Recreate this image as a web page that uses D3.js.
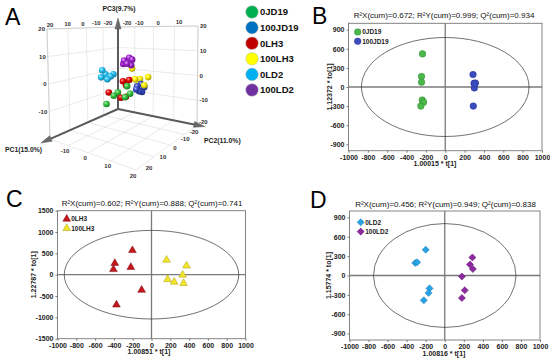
<!DOCTYPE html>
<html>
<head>
<meta charset="utf-8">
<title>PCA and OPLS-DA score plots</title>
<script src="https://d3js.org/d3.v7.min.js"></script>
<style>
	body {
		margin: 0;
		background: #fff;
	}
	svg { display: block; font-family: "Liberation Sans", Arial, sans-serif; }
	.letter { font-size: 23px; fill: #000; }
	.plot-title { font-size: 8px; fill: #111; }
	.axis-title { font-size: 7px; font-weight: bold; fill: #222; }
	.legend-text { font-size: 6.5px; font-weight: bold; fill: #222; }
	.zero-line { stroke: #7a7a7a; stroke-width: 1.3px; }
	.frame { fill: none; stroke: #777; stroke-width: 0.9px; }
	.ellipse { fill: none; stroke: #333; stroke-width: 0.7px; }
	.grid3d { stroke: #dcdcdc; stroke-width: 0.6px; fill: none; }
	.edge3d { stroke: #c8c8c8; stroke-width: 0.8px; fill: none; }
	.axis3d { stroke: #5a5a5a; stroke-width: 2px; }
	.tick3d { font-size: 6px; font-weight: bold; fill: #333; }
	.title3d { font-size: 6.8px; font-weight: bold; fill: #222; }
	.legend3d { font-size: 9.5px; font-weight: bold; fill: #111; }
</style>
</head>
<body>
<script>
	// ---------- data ----------
	var groups = ["0JD19", "100JD19", "0LH3", "100LH3", "0LD2", "100LD2"];
	var legendColors = ["#00b050", "#0070c0", "#c00000", "#ffff00", "#00b0f0", "#7030a0"];
	var sphereColors = ["#2fc23a", "#3548c8", "#e40000", "#fff000", "#22c0f4", "#a020d0"];

	// PCA scores [PC1, PC2, PC3]
	var pca_0JD19  = [[8, -2, -7.4], [5, -1, -4.9], [4, 0.2, -3.8], [5, 4.3, -4.7], [2, 4.4, -4.1], [1, 2.2, -1.8]];
	var pca_100JD19 = [[-1, 5.4, -1.9], [-2, 5.6, -3.9], [-4, 5.5, -4.7], [0, 5.7, -2.8], [-5, 4.3, -2.0], [-3, 7.2, -2.4]];
	var pca_0LH3   = [[2, 1.0, 0.1], [0, 2.4, 0.3], [1, 1.7, -1.5], [6, -2.6, -3.7], [4, 1.6, -5.5], [3, 3.2, -5.2]];
	var pca_100LH3 = [[-4, 0.8, 3.9], [-2, 3.7, 0.4], [-5, 3.8, -0.1], [-6, 6.9, 0.8], [-3, 7.2, -1.7], [-7, 1.8, -2.2]];
	var pca_0LD2   = [[5, -6.7, 4.0], [3, -6.8, 2.1], [6, -6.4, 1.5], [4, -5.0, 0.6], [2, -5.1, 1.3], [1, -4.5, 2.0]];
	var pca_100LD2 = [[0, 0, 7.5], [-2, 0.9, 8.4], [2, 5.3, 8.5], [3, 3.7, 7.0], [-1, 2.6, 5.8], [-3, -2.8, 5.6]];
	var pcaTicks = [-20, -10, 0, 10, 20];
	var pcaTitles = ["PC1(15.0%)", "PC2(11.0%)", "PC3(9.7%)"];

	// OPLS-DA scores [t[1], to[1]]
	var opls_0JD19   = [[-235, 520], [-245, 165], [-245, 75], [-238, -205], [-224, -240], [-252, -300]];
	var opls_100JD19 = [[287, 195], [298, 58], [312, 62], [301, -15], [290, -300], [305, 50]];
	var opls_0LH3    = [[-203, 570], [-390, 270], [-405, 125], [-220, 175], [-105, -360], [-373, -705]];
	var opls_100LH3  = [[160, 345], [373, 210], [331, -5], [171, -110], [241, -170], [341, -200]];
	var opls_0LD2    = [[-200, 400], [-310, 195], [-290, 205], [-160, -200], [-170, -270], [-220, -385]];
	var opls_100LD2  = [[290, 280], [265, 170], [295, 100], [180, -15], [210, -230], [180, -350]];

	var tTicks = [-1000, -800, -600, -400, -200, 0, 200, 400, 600, 800, 1000];
	var toTicksBD = [-900, -600, -300, 0, 300, 600, 900];
	var toTicksC = [-1500, -1000, -500, 0, 500, 1000, 1500];

	var titleB = "R²X(cum)=0.672; R²Y(cum)=0.999; Q²(cum)=0.934";
	var titleC = "R²X(cum)=0.602; R²Y(cum)=0.888; Q²(cum)=0.741";
	var titleD = "R²X(cum)=0.456; R²Y(cum)=0.949; Q²(cum)=0.838";
	var ellipseB = [866, 777], ellipseC = [928, 1038], ellipseD = [748, 805];

	// ---------- svg ----------
	var svg = d3.select("body").append("svg")
			.attr("width", 550)
			.attr("height", 361);
	var defs = svg.append("defs");

	////////////////////////////////////////////////////////////
	// A: 3D PCA
	var floor = [[118, 109], [50, 139], [197, 125], [136, 170]];   // back, left, right, front
	var roof  = [[118, 27], [47, 29], [198, 26], [137, 31]];
	var s01 = d3.scaleLinear().domain([-20, 20]).range([0, 1]);
	var persp = function(t) { return t / (1.25 - 0.25 * t); };

	function bil(c, u, v) {
		return [0, 1].map(function(k) {
			return c[0][k] * (1 - u) * (1 - v) + c[1][k] * u * (1 - v) + c[2][k] * (1 - u) * v + c[3][k] * u * v;
		});
	}
	function proj(a, b, c) {
		var u = persp(s01(a)), v = persp(s01(b)), w = s01(c);
		var lo = bil(floor, u, v), hi = bil(roof, u, v);
		return [lo[0] + (hi[0] - lo[0]) * w, lo[1] + (hi[1] - lo[1]) * w];
	}
	var line = d3.line();

	var gA = svg.append("g");
	var grid = gA.append("g");
	pcaTicks.forEach(function(t) {
		// left wall (PC2 = -20)
		grid.append("path").attr("class", "grid3d").attr("d", line([proj(t, -20, -20), proj(t, -20, 20)]));
		grid.append("path").attr("class", "grid3d").attr("d", line([proj(-20, -20, t), proj(20, -20, t)]));
		// right wall (PC1 = -20)
		grid.append("path").attr("class", "grid3d").attr("d", line([proj(-20, t, -20), proj(-20, t, 20)]));
		grid.append("path").attr("class", "grid3d").attr("d", line([proj(-20, -20, t), proj(-20, 20, t)]));
		// floor (PC3 = -20)
		grid.append("path").attr("class", "grid3d").attr("d", line([proj(t, -20, -20), proj(t, 20, -20)]));
		grid.append("path").attr("class", "grid3d").attr("d", line([proj(-20, t, -20), proj(20, t, -20)]));
	});
	grid.append("path").attr("class", "edge3d").attr("d", line([proj(20, -20, -20), proj(20, -20, 20), proj(-20, -20, 20), proj(-20, 20, 20), proj(-20, 20, -20)]));

	// axes with arrow heads
	var origin = proj(-20, -20, -20);
	function arrow(end, ext) {
		var dx = end[0] - origin[0], dy = end[1] - origin[1];
		var len = Math.sqrt(dx * dx + dy * dy);
		var tip = [origin[0] + dx * (1 + ext / len), origin[1] + dy * (1 + ext / len)];
		var ux = dx / len, uy = dy / len;
		var base = [tip[0] - ux * 11, tip[1] - uy * 11];
		gA.append("path").attr("class", "axis3d").attr("d", line([origin, base]));
		gA.append("path")
				.attr("d", line([tip, [base[0] - uy * 3, base[1] + ux * 3], [base[0] + uy * 3, base[1] - ux * 3]]) + "Z")
				.attr("fill", "#6a6a6a")
				.attr("stroke", "#444")
				.attr("stroke-width", 0.4);
	}

	// spheres
	var pcaSets = [pca_0JD19, pca_100JD19, pca_0LH3, pca_100LH3, pca_0LD2, pca_100LD2];
	sphereColors.forEach(function(c, i) {
		var gr = defs.append("radialGradient").attr("id", "sph" + i)
				.attr("cx", "38%").attr("cy", "35%").attr("r", "65%");
		gr.append("stop").attr("offset", "0%").attr("stop-color", d3.interpolateRgb(c, "#fff")(0.65));
		gr.append("stop").attr("offset", "45%").attr("stop-color", c);
		gr.append("stop").attr("offset", "100%").attr("stop-color", d3.interpolateRgb(c, "#000")(0.35));
	});

	arrow(proj(20, -20, -20), 10);
	arrow(proj(-20, 20, -20), 8);
	arrow(proj(-20, -20, 20), 9);

	var spheres = [];
	pcaSets.forEach(function(set, i) {
		set.forEach(function(d) { spheres.push({ g: i, p: d }); });
	});
	spheres.sort(function(a, b) { return (s01(a.p[0]) + s01(a.p[1])) - (s01(b.p[0]) + s01(b.p[1])); });
	gA.append("g").selectAll("circle")
			.data(spheres)
		.enter().append("circle")
			.attr("cx", function(d) { return proj(d.p[0], d.p[1], d.p[2])[0]; })
			.attr("cy", function(d) { return proj(d.p[0], d.p[1], d.p[2])[1]; })
			.attr("r", 3.3)
			.attr("fill", function(d) { return "url(#sph" + d.g + ")"; });

	// tick labels
	var tk = gA.append("g").attr("class", "tick3d");
	pcaTicks.forEach(function(t) {
		var f = s01(t), p;
		// top edge of the left wall (PC1)
		p = proj(t, -20, 20);
		tk.append("text").attr("x", p[0] - 10 + 13 * f).attr("y", p[1] - 2).attr("text-anchor", "middle").text(t);
		// top edge of the right wall (PC2)
		if (t < 20) {
			p = proj(-20, t, 20);
			tk.append("text").attr("x", p[0] + (t === -20 ? 9 : 4.5)).attr("y", p[1] - 2).attr("text-anchor", "middle").text(t);
		}
		// left vertical edge (PC3)
		if (t > -20) {
			p = proj(20, -20, t);
			tk.append("text").attr("x", p[0] - 2).attr("y", p[1] + 2).attr("text-anchor", "end").text(t);
		}
		// right vertical edge (PC3)
		p = proj(-20, 20, t);
		tk.append("text").attr("x", p[0] + 2).attr("y", p[1] + (t === -20 ? -1 : 2)).attr("text-anchor", "start").text(t);
		// floor, left front edge (PC2)
		if (t > -20) {
			p = proj(20, t, -20);
			tk.append("text").attr("x", p[0] - 3).attr("y", p[1] + 7.5).attr("text-anchor", "middle").text(t);
		}
		// floor, right front edge (PC1)
		p = proj(t, 20, -20);
		tk.append("text").attr("x", p[0] - 3 + 16 * f).attr("y", p[1] + 9 - 9 * f).attr("text-anchor", "middle").text(t);
	});
	gA.append("text").attr("class", "title3d").attr("x", 5).attr("y", 152).text(pcaTitles[0]);
	gA.append("text").attr("class", "title3d").attr("x", 204).attr("y", 143).text(pcaTitles[1]);
	gA.append("text").attr("class", "title3d").attr("x", 119).attr("y", 11).attr("text-anchor", "middle").text(pcaTitles[2]);

	// legend
	var leg = gA.append("g").selectAll("g")
			.data(groups)
		.enter().append("g")
			.attr("transform", function(d, i) { return "translate(252," + (12 + i * 15.6) + ")"; });
	leg.append("circle")
			.attr("r", 6.3)
			.attr("fill", function(d, i) { return legendColors[i]; })
			.attr("stroke", "#bbb")
			.attr("stroke-width", 0.5);
	leg.append("text").attr("class", "legend3d").attr("x", 8).attr("y", 3.4).text(function(d) { return d; });

	svg.append("text").attr("class", "letter").attr("x", 5).attr("y", 25).text("A");

	////////////////////////////////////////////////////////////
	// B, C, D: OPLS-DA score plots
	var circle = d3.symbol(d3.symbolCircle, 34);
	var triangle = d3.symbol(d3.symbolTriangle, 26);
	var diamond = d3.symbol(d3.symbolSquare, 25);
	var plain = function(d) { return String(d); };

	function oplsPanel(p) {
		var x = d3.scaleLinear().domain([-1000, 1000]).range([p.box[0], p.box[1]]);
		var y = d3.scaleLinear().domain(p.yDomain).range([p.box[3], p.box[2]]);
		var g = svg.append("g");

		g.append("line").attr("class", "zero-line")
				.attr("x1", x(0)).attr("x2", x(0)).attr("y1", p.box[2]).attr("y2", p.box[3]);
		g.append("line").attr("class", "zero-line")
				.attr("x1", p.box[0]).attr("x2", p.box[1]).attr("y1", y(0)).attr("y2", y(0));
		g.append("ellipse").attr("class", "ellipse")
				.attr("cx", x(0)).attr("cy", y(0))
				.attr("rx", x(p.ellipse[0]) - x(0))
				.attr("ry", y(0) - y(p.ellipse[1]));
		g.append("rect").attr("class", "frame")
				.attr("x", p.box[0]).attr("y", p.box[2])
				.attr("width", p.box[1] - p.box[0]).attr("height", p.box[3] - p.box[2]);

		var xa = g.append("g").attr("transform", "translate(0," + p.box[3] + ")")
				.call(d3.axisBottom(x).tickValues(tTicks).tickFormat(plain).tickSize(2).tickPadding(2));
		var ya = g.append("g").attr("transform", "translate(" + p.box[0] + ",0)")
				.call(d3.axisLeft(y).tickValues(p.yTicks).tickFormat(plain).tickSize(2).tickPadding(2));
		[xa, ya].forEach(function(a) {
			a.attr("font-size", 7).attr("font-family", null).attr("font-weight", "bold");
			a.select(".domain").remove();
			a.selectAll(".tick line").attr("stroke", "#777");
			a.selectAll(".tick text").attr("fill", "#222");
		});

		p.series.forEach(function(s) {
			g.append("g").selectAll("path")
					.data(s.values)
				.enter().append("path")
					.attr("d", s.symbol)
					.attr("transform", function(d) {
						return "translate(" + x(d[0]) + "," + y(d[1]) + ")" + (s.symbol === diamond ? " rotate(45)" : "");
					})
					.attr("fill", s.fill)
					.attr("stroke", s.stroke)
					.attr("stroke-width", 0.5);
		});

		// legend
		p.series.forEach(function(s, i) {
			var ly = p.legend[1] + i * 9.3;
			g.append("path")
					.attr("d", s.symbol)
					.attr("transform", "translate(" + p.legend[0] + "," + ly + ")" + (s.symbol === diamond ? " rotate(45)" : ""))
					.attr("fill", s.fill)
					.attr("stroke", s.stroke)
					.attr("stroke-width", 0.5);
			g.append("text").attr("class", "legend-text")
					.attr("x", p.legend[0] + 4.5).attr("y", ly + 2.4).text(s.name);
		});

		g.append("text").attr("class", "plot-title")
				.attr("x", p.titlePos[0]).attr("y", p.titlePos[1])
				.attr("text-anchor", "middle").text(p.title);
		g.append("text").attr("class", "axis-title")
				.attr("x", p.xTitleX).attr("y", p.box[3] + 15.5)
				.attr("text-anchor", "middle").text(p.xTitle);
		g.append("text").attr("class", "axis-title")
				.attr("transform", "translate(" + p.yTitleX + "," + y(0) + ") rotate(-90)")
				.attr("dy", "0.35em")
				.attr("text-anchor", "middle").text(p.yTitle);
		g.append("text").attr("class", "letter")
				.attr("x", p.letterPos[0]).attr("y", p.letterPos[1]).text(p.letter);
	}

	oplsPanel({
		box: [348.5, 542, 23.3, 150.7], yDomain: [-1000, 1000], yTicks: toTicksBD,
		ellipse: ellipseB, title: titleB, titlePos: [444, 18],
		xTitle: "1.00015 * t[1]", xTitleX: 435, yTitle: "1.12372 * to[1]", yTitleX: 330,
		letter: "B", letterPos: [312, 24], legend: [357.7, 32],
		series: [
			{ name: "0JD19", values: opls_0JD19, symbol: circle, fill: "#4cb84a", stroke: "#2f8a30" },
			{ name: "100JD19", values: opls_100JD19, symbol: circle, fill: "#3b4cc0", stroke: "#27338a" }
		]
	});

	oplsPanel({
		box: [57.5, 245.5, 210.7, 338.7], yDomain: [-1500, 1500], yTicks: toTicksC,
		ellipse: ellipseC, title: titleC, titlePos: [152, 206],
		xTitle: "1.00851 * t[1]", xTitleX: 149, yTitle: "1.22787 * to[1]", yTitleX: 33.3,
		letter: "C", letterPos: [6, 207], legend: [66.7, 219],
		series: [
			{ name: "0LH3", values: opls_0LH3, symbol: triangle, fill: "#c4161c", stroke: "#7a0b0e" },
			{ name: "100LH3", values: opls_100LH3, symbol: triangle, fill: "#f2e52a", stroke: "#a89c10" }
		]
	});

	oplsPanel({
		box: [349.5, 540, 211, 340], yDomain: [-1000, 1000], yTicks: toTicksBD,
		ellipse: ellipseD, title: titleD, titlePos: [445.5, 206.5],
		xTitle: "1.00816 * t[1]", xTitleX: 444, yTitle: "1.15774 * to[1]", yTitleX: 328.3,
		letter: "D", letterPos: [310, 208], legend: [360.7, 222.3],
		series: [
			{ name: "0LD2", values: opls_0LD2, symbol: diamond, fill: "#27a3e6", stroke: "#1677b0" },
			{ name: "100LD2", values: opls_100LD2, symbol: diamond, fill: "#8e2aa0", stroke: "#5e1670" }
		]
	});
</script>
</body>
</html>
